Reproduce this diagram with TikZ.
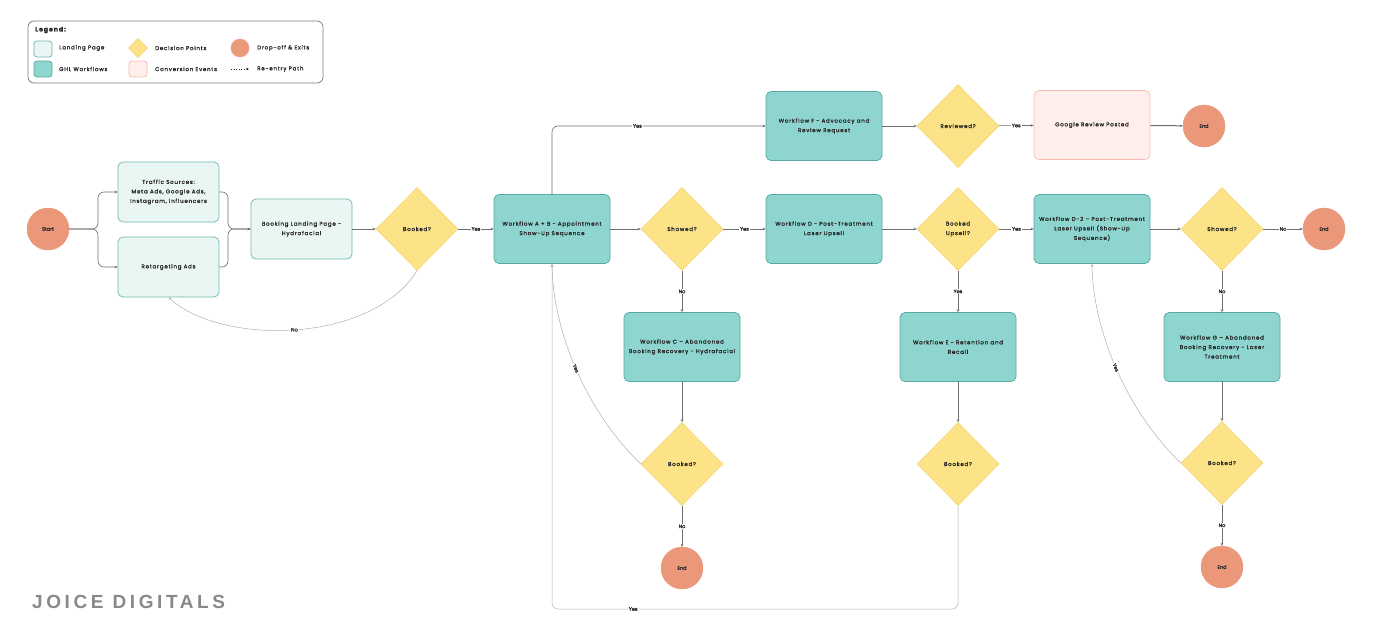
\documentclass[tikz,border=0pt]{standalone}
\usepackage{fontspec}
\setmainfont{Poppins}[FakeBold=1.2]
\newfontfamily\boxfont{Poppins}[LetterSpace=14,FakeBold=1.3]
\newfontfamily\brandfont{Liberation Sans}[LetterSpace=19]
\usetikzlibrary{shapes.geometric,arrows.meta}
\definecolor{lpfill}{HTML}{EAF6F3}
\definecolor{lpdraw}{HTML}{6DB8AE}
\definecolor{wffill}{HTML}{8FD5CF}
\definecolor{wfdraw}{HTML}{55A9A0}
\definecolor{decfill}{HTML}{FCE388}
\definecolor{decdraw}{HTML}{F6D774}
\definecolor{termfill}{HTML}{EA977A}
\definecolor{convfill}{HTML}{FFEEEB}
\definecolor{convdraw}{HTML}{F5BDB1}
\definecolor{txt}{HTML}{262626}
\definecolor{edgec}{HTML}{6F6F6F}
\definecolor{soft}{HTML}{B0B0B0}
\definecolor{brand}{HTML}{8C8886}
\definecolor{legdraw}{HTML}{7A7A7A}
\tikzset{
  boxtext/.style={font=\boxfont\fontsize{5.5}{9.5}\selectfont, text=txt, align=center},
  lpbox/.style={boxtext, rectangle, rounded corners=5pt, fill=lpfill, draw=lpdraw, line width=0.7pt, minimum width=101pt, minimum height=60pt, inner sep=0pt},
  wfbox/.style={boxtext, rectangle, rounded corners=5pt, fill=wffill, draw=wfdraw, line width=0.7pt, minimum width=116pt, minimum height=69pt, inner sep=0pt},
  convbox/.style={boxtext, rectangle, rounded corners=5pt, fill=convfill, draw=convdraw, line width=0.7pt, minimum width=116pt, minimum height=69pt, inner sep=0pt},
  decnode/.style={boxtext, diamond, fill=decfill, draw=decdraw, line width=0.6pt, minimum width=82pt, minimum height=83pt, inner sep=0pt},
  termnode/.style={circle, fill=termfill, draw=termfill, minimum size=42pt, inner sep=0pt, font=\fontsize{5}{6}\selectfont, text=txt},
  arr/.style={draw=edgec, line width=0.6pt, -{Stealth[length=3pt,width=2.6pt]}},
  softarr/.style={draw=soft, line width=0.5pt, -{Stealth[length=3pt,width=2.6pt]}},
  lbl/.style={fill=white, inner sep=1pt, font=\fontsize{5}{6}\selectfont, text=txt},
  legtext/.style={anchor=west, font=\boxfont\fontsize{5.5}{6}\selectfont, text=txt, inner sep=0pt}
}
\begin{document}
\begin{tikzpicture}[x=1pt,y=-1pt]
\fill[white] (0,0) rectangle (1374,632);
\useasboundingbox (0,0) rectangle (1374,632);

% Legend
\node[draw=legdraw, line width=0.7pt, rounded corners=6pt, minimum width=295pt, minimum height=62pt, inner sep=0pt] (legend) at (175.5,52) {};
\node[anchor=west, inner sep=0pt, font=\boxfont\bfseries\fontsize{6.3}{7}\selectfont, text=txt] (legtitle) at (35,30) {Legend:};
\node[lpbox, minimum width=18pt, minimum height=16pt, rounded corners=3pt] (lg1) at (43,49) {};
\node[legtext] (lt1) at (59,48) {Landing Page};
\node[decnode, minimum width=19pt, minimum height=19pt] (lg2) at (138,48) {};
\node[legtext] (lt2) at (155,48) {Decision Points};
\node[termnode, minimum size=18pt] (lg3) at (240,48) {};
\node[legtext] (lt3) at (257,48) {Drop-off \& Exits};
\node[wfbox, minimum width=18pt, minimum height=16pt, rounded corners=3pt] (lg4) at (43,69) {};
\node[legtext] (lt4) at (59,69) {GHL Workflows};
\node[convbox, minimum width=18pt, minimum height=16pt, rounded corners=3pt] (lg5) at (138,69) {};
\node[legtext] (lt5) at (155,69) {Conversion Events};
\coordinate (lgA) at (231,69);
\coordinate (lgB) at (249,69);
\draw[draw=txt, line width=0.6pt, dotted, -{Stealth[length=3pt,width=2.6pt]}] (lgA) -- (lgB);
\node[legtext] (lt6) at (257,69) {Re-entry Path};

% Nodes
\node[termnode] (start) at (48,229) {Start};
\node[lpbox] (ts) at (168.5,192) {Traffic Sources:\\Meta Ads, Google Ads,\\Instagram, Influencers};
\node[lpbox] (ra) at (168.5,267) {Retargeting Ads};
\node[lpbox] (lp) at (301.5,229) {Booking Landing Page -\\Hydrafacial};
\node[decnode] (b1) at (417,229) {Booked?};
\node[wfbox] (ab) at (552,229) {Workflow A + B - Appointment\\Show-Up Sequence};
\node[decnode] (s1) at (682,229) {Showed?};
\node[wfbox] (wd) at (824,229) {Workflow D - Post-Treatment\\Laser Upsell};
\node[wfbox] (wf) at (824,126) {Workflow F - Advocacy and\\Review Request};
\node[decnode] (rv) at (958,126) {Reviewed?};
\node[convbox] (gr) at (1092,125) {Google Review Posted};
\node[termnode] (e1) at (1204,126) {End};
\node[decnode] (bu) at (958,229) {Booked\\Upsell?};
\node[wfbox] (d2) at (1092,229) {Workflow D-2 – Post-Treatment\\Laser Upsell (Show-Up\\Sequence)};
\node[decnode] (s2) at (1222,229) {Showed?};
\node[termnode] (e2) at (1324,229) {End};
\node[wfbox] (wc) at (682,347) {Workflow C – Abandoned\\Booking Recovery - Hydrafacial};
\node[decnode] (bc) at (682,464) {Booked?};
\node[termnode] (e3) at (682,568) {End};
\node[wfbox] (we) at (958,347) {Workflow E - Retention and\\Recall};
\node[decnode] (be) at (958,464) {Booked?};
\node[wfbox] (wg) at (1222,347) {Workflow G – Abandoned\\Booking Recovery - Laser\\Treatment};
\node[decnode] (bg) at (1222,463) {Booked?};
\node[termnode] (e4) at (1222,567) {End};

% Connectors
\coordinate (fk) at (98,229);
\coordinate (mg) at (228,229);
\draw[arr, rounded corners=6pt] (start.east) -- (fk) |- (ts.west);
\draw[arr, rounded corners=6pt] (start.east) -- (fk) |- (ra.west);
\draw[arr, rounded corners=6pt] (ts.east) -| (mg) -- (lp.west);
\draw[arr, rounded corners=6pt] (ra.east) -| (mg) -- (lp.west);
\draw[arr] (lp) -- (b1);
\draw[softarr] (b1.south) .. controls (370,345) and (220,345) .. node[lbl, pos=0.5] {No} (ra.south);
\draw[arr] (b1) -- node[lbl] {Yes} (ab);
\draw[arr] (ab) -- (s1);
\draw[arr, rounded corners=6pt] (ab.north) |- node[lbl, pos=0.7] {Yes} (wf.west);
\draw[arr] (s1) -- node[lbl] {Yes} (wd);
\draw[arr] (wf) -- (rv);
\draw[arr] (rv) -- node[lbl] {Yes} (gr);
\draw[arr, line width=1pt] (gr) -- (e1);
\draw[arr] (wd) -- (bu);
\draw[arr] (bu) -- node[lbl] {Yes} (d2);
\draw[arr] (d2) -- (s2);
\draw[arr] (s2) -- node[lbl] {No} (e2);
\draw[arr] (s1) -- node[lbl] {No} (wc);
\draw[arr] (wc) -- (bc);
\draw[arr] (bc) -- node[lbl] {No} (e3);
\draw[arr] (bu) -- node[lbl] {Yes} (we);
\draw[arr] (we) -- (be);
\draw[arr] (s2) -- node[lbl] {No} (wg);
\draw[arr] (wg) -- (bg);
\draw[arr] (bg) -- node[lbl] {No} (e4);
\draw[softarr] (bc.west) .. controls (585,410) and (553,330) .. node[lbl, pos=0.5, sloped] {Yes} (ab.south);
\draw[softarr] (bg.west) .. controls (1125,409) and (1093,329) .. node[lbl, pos=0.5, sloped] {Yes} (d2.south);
\coordinate (r1) at (958,609);
\coordinate (r2) at (552,609);
\draw[softarr, rounded corners=6pt] (be.south) -- (r1) -- node[lbl, pos=0.8] {Yes} (r2) -- (ab.south);

% Brand
\node[anchor=west, inner sep=0pt, font=\brandfont\bfseries\fontsize{19}{20}\selectfont, text=brand] (brandname) at (32,602) {JOICE DIGITALS};
\end{tikzpicture}
\end{document}
